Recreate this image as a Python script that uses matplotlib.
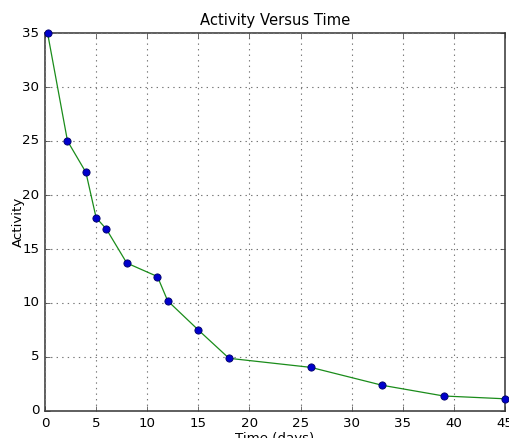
import matplotlib
matplotlib.use("Agg")
import matplotlib.pyplot as plt

time_days = [0.25, 2.2, 4, 5, 6, 8, 11, 12, 15, 18, 26, 33, 39, 45]
activity = [35, 25, 22.1, 17.9, 16.85, 13.7, 12.45, 10.2, 7.5, 4.88, 4.04, 2.38, 1.39, 1.13]

plt.style.use("classic")
plt.rcParams["font.family"] = ["DejaVu Sans"]

fig = plt.figure(figsize=(5.10, 4.38), dpi=100, facecolor="white")
ax = fig.add_axes([45/510, 1-411/438, 460/510, 378/438])
ax.plot(time_days, activity, color="#1a8c1a", linewidth=0.9, marker="o",
        markersize=5.2, markerfacecolor="#0000cc", markeredgecolor="#000066",
        markeredgewidth=0.6, clip_on=False, zorder=3)
ax.set_xlim(0, 45)
ax.set_ylim(0, 35)
ax.set_xticks(range(0, 46, 5))
ax.set_yticks(range(0, 36, 5))
ax.tick_params(labelsize=9.6, length=3.5, color="#333333")
for s in ax.spines.values():
    s.set_color("#333333")
    s.set_linewidth(1.1)
ax.grid(True, linestyle=":", color="#777777", linewidth=0.8)
ax.set_title("Activity Versus Time", fontsize=10.6, pad=6)
ax.set_xlabel("Time (days)", fontsize=9.6, labelpad=2)
ax.set_ylabel("Activity", fontsize=9.6, labelpad=-2)
fig.savefig("out.png", dpi=100, facecolor="white")
